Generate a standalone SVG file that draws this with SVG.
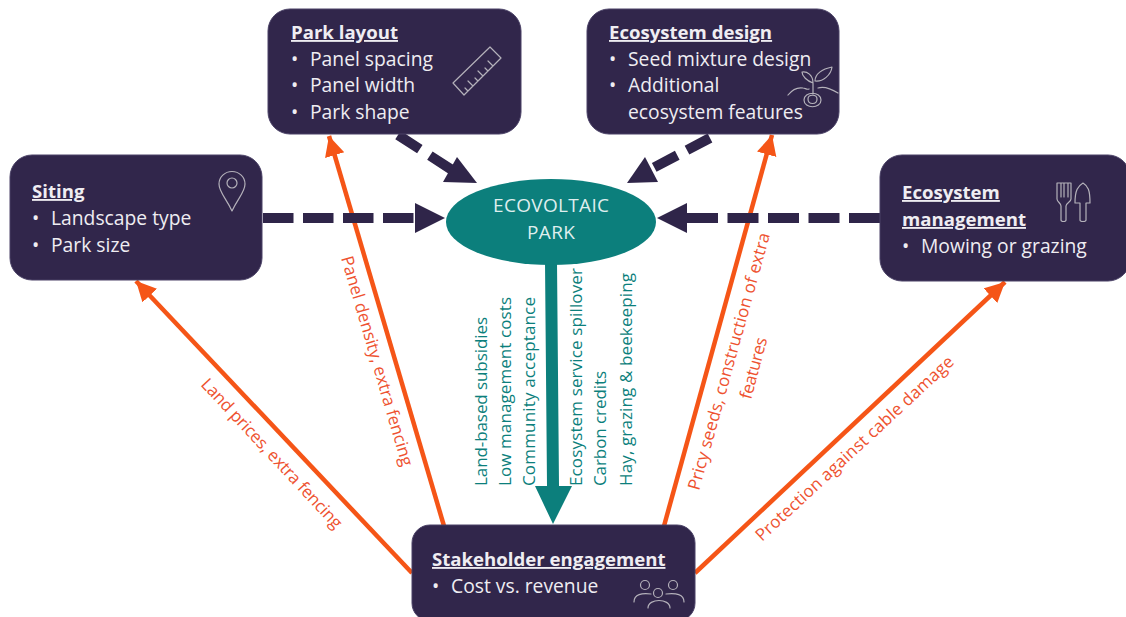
<svg xmlns="http://www.w3.org/2000/svg" width="1126" height="617" viewBox="0 0 1126 617">
<style>
text{font-family:"Open Sans","Noto Sans","Liberation Sans",sans-serif}
.box{fill:#31264b;stroke:#4a4166;stroke-width:1}
.t{fill:#efedf2;font-size:19.3px}
.h{font-weight:700;font-size:18.6px;text-decoration:underline}
.ic{fill:none;stroke:#b4b1ba;stroke-width:1.2;stroke-linejoin:round;stroke-linecap:round}
.or{fill:#ee5230;font-size:17px}
.te{fill:#0c7f7c;font-size:17px}
.dash{stroke:#2f2549;stroke-width:10;fill:none}
.dh{fill:#2f2549}
.orl{stroke:#f55517;stroke-width:4.500;fill:none}
.el{fill:#dfeeee;font-size:19px;text-anchor:middle}
</style>
<defs>
<marker id="oh" markerUnits="userSpaceOnUse" markerWidth="22" markerHeight="22" refX="20" refY="10" orient="auto"><path d="M0,0L20,10L0,20Z" fill="#f55517"/></marker>
</defs>
<g id="connectors">
<path class="orl" d="M412,573L136,281" marker-end="url(#oh)"/>
<path class="orl" d="M444,526L329,136" marker-end="url(#oh)"/>
<path class="orl" d="M664,526L772,135" marker-end="url(#oh)"/>
<path class="orl" d="M695,573L1005,282" marker-end="url(#oh)"/>
<path class="dash" stroke-dasharray="30.500 9.500" d="M263,218H416"/><path class="dh" d="M415,203L445,218L415,233Z"/>
<path class="dash" stroke-dasharray="31 9.500" d="M880,218H687"/><path class="dh" d="M687,203L657,218L687,233Z"/>
<path class="dash" stroke-dasharray="26 12" d="M398,135L452,170"/><path class="dh" d="M457,157L477,183L443,182Z"/>
<path class="dash" stroke-dasharray="26 11" d="M710,138L651,169"/><path class="dh" d="M645,157L627,183L658,182Z"/>
<path d="M545,262L557,262L559,486L572,486L553,524L535,486L547,486Z" fill="#0c7f7c"/>
</g>
<g id="siting"><rect class="box" x="10" y="155" width="252" height="125" rx="22"/>
<text class="t h" x="32" y="198">Siting</text>
<text class="t" x="32" y="225">•</text><text class="t" x="51" y="225">Landscape type</text>
<text class="t" x="32" y="252">•</text><text class="t" x="51" y="252">Park size</text>
<path class="ic" d="M232,211C226,198 219,192 219,184A13,12.500 0 1 1 245,184C245,192 238,198 232,211Z"/><circle class="ic" cx="232" cy="183" r="5"/>
</g>
<g id="park-layout"><rect class="box" x="268" y="9" width="253" height="125" rx="22"/>
<text class="t h" x="291" y="39">Park layout</text>
<text class="t" x="291" y="66">•</text><text class="t" x="310" y="66">Panel spacing</text>
<text class="t" x="291" y="92">•</text><text class="t" x="310" y="92">Panel width</text>
<text class="t" x="291" y="119">•</text><text class="t" x="310" y="119">Park shape</text>
<path class="ic" d="M453,83L490,47L501,58L464,95ZM468,91L465,88M473,86L468,81M478,81L475,78M483,76L478,71M488,71L485,68M493,66L488,61"/>
</g>
<g id="ecosystem-design"><rect class="box" x="587" y="9" width="252" height="125" rx="22"/>
<text class="t h" x="609" y="39">Ecosystem design</text>
<text class="t" x="609" y="66">•</text><text class="t" x="628" y="66">Seed mixture design</text>
<text class="t" x="609" y="92">•</text><text class="t" x="628" y="92">Additional</text>
<text class="t" x="628" y="119">ecosystem features</text>
<path class="ic" d="M788,95C792,90 797,87 803,88C805,88 807,90 809,89M818,88C824,86 830,88 838,93M813,83L813,94M813,83C807,81 802,76 802,72C807,71 813,75 813,83ZM815,81C815,74 822,69 832,67C831,75 823,82 815,81ZM808,99C808,94 817,94 817,99C817,105 808,105 808,99ZM804,100C804,91 821,91 821,100C821,109 804,109 804,100Z"/>
</g>
<g id="ecosystem-management"><rect class="box" x="880" y="155" width="250" height="126" rx="22"/>
<text class="t h" x="902" y="199">Ecosystem</text>
<text class="t h" x="902" y="226">management</text>
<text class="t" x="902" y="253">•</text><text class="t" x="921" y="253">Mowing or grazing</text>
<path class="ic" d="M1057,183V199C1057,202 1061,203 1061,206V220C1061,222 1066,222 1066,220V206C1066,203 1071,202 1071,199V183L1068,183V197M1068,183H1067M1061,183V197M1057,183H1061M1064,183V197M1064,183H1061M1068,183H1064"/>
<path class="ic" d="M1083,183C1078,186 1075,190 1075,203H1080V220C1080,222 1086,222 1086,220V203H1090C1090,190 1088,186 1083,183Z"/>
</g>
<g id="stakeholder-engagement"><rect class="box" x="412" y="525" width="283" height="96" rx="18"/>
<text class="t h" x="432" y="566">Stakeholder engagement</text>
<text class="t" x="432" y="593">•</text><text class="t" x="451" y="593">Cost vs. revenue</text>
<g class="ic"><circle cx="645" cy="585" r="4.500"/><circle cx="673" cy="585" r="4.500"/><circle cx="658" cy="593" r="4.500"/>
<path d="M634,602C634,594 642,593 651,594M684,602C684,594 676,593 666,594M648,608C648,598 670,598 670,608"/></g>
</g>
<g id="ecovoltaic-park"><ellipse cx="551" cy="222" rx="105" ry="43" fill="#0c7f7c"/>
<text class="el" x="551" y="212" textLength="116">ECOVOLTAIC</text>
<text class="el" x="551" y="239" textLength="48">PARK</text>
</g>
<g id="labels">
<text class="or" textLength="198" transform="translate(200,385) rotate(47)">Land prices, extra fencing</text>
<text class="or" textLength="218" transform="translate(341,258) rotate(73.700)">Panel density, extra fencing</text>
<text class="or" textLength="266" transform="translate(699,491) rotate(-74.500)">Pricy seeds, construction of extra</text>
<text class="or" textLength="63" transform="translate(751,400) rotate(-75)">features</text>
<text class="or" textLength="263" transform="translate(762,542) rotate(-42.800)">Protection against cable damage</text>
<text class="te" textLength="169" transform="translate(487,486) rotate(-90)">Land-based subsidies</text>
<text class="te" textLength="189" transform="translate(511,486) rotate(-90)">Low management costs</text>
<text class="te" textLength="189" transform="translate(535,486) rotate(-90)">Community acceptance</text>
<text class="te" textLength="218" transform="translate(582,486) rotate(-90)">Ecosystem service spillover</text>
<text class="te" textLength="115" transform="translate(606,486) rotate(-90)">Carbon credits</text>
<text class="te" textLength="213" transform="translate(632,486) rotate(-90)">Hay, grazing &amp; beekeeping</text>
</g>
</svg>
